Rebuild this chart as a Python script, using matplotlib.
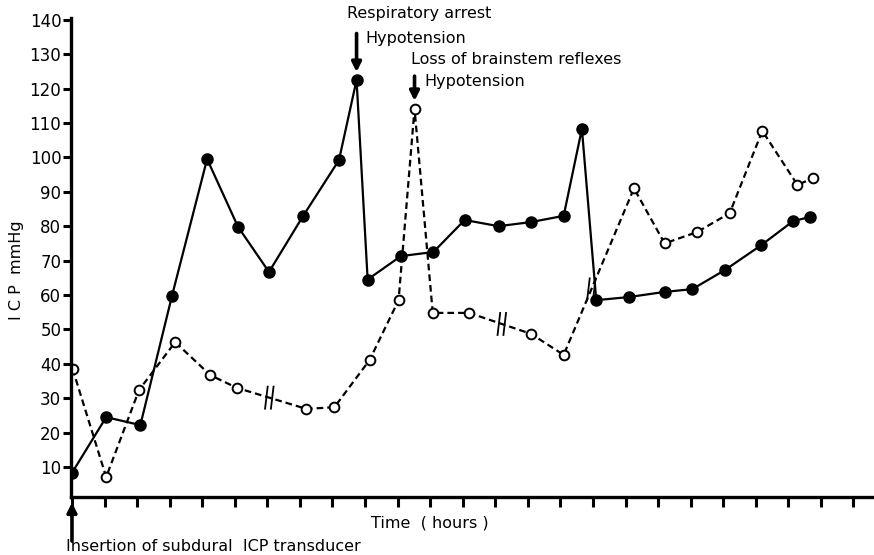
import numpy as np
import matplotlib
matplotlib.use('Agg')
from matplotlib import pyplot as plt

plt.rcParams['font.family'] = ['DejaVu Sans']

# solid line, filled circles (time in tick units)
t_filled = [0, 1.05, 2.1, 3.07, 4.15, 5.1, 6.05, 7.1, 8.2, 8.74, 9.08, 10.1, 11.1,
            12.06, 13.1, 14.1, 15.1, 15.66, 16.1, 17.1, 18.2, 19.05, 20.06, 21.17,
            22.15, 22.68]
icp_filled = [8.3, 24.5, 22.2, 59.7, 99.5, 79.8, 66.7, 83, 99.2, 122.5, 64.5, 71.3, 72.5,
              81.8, 80, 81.2, 83, 108.3, 58.5, 59.4, 60.9, 61.7, 67.3, 74.5, 81.5, 82.7]

# dashed line, open circles
t_open = [0.02, 1.05, 2.06, 3.17, 4.25, 5.07, 7.2, 8.06, 9.14, 10.03, 10.52, 11.08,
          12.2, 14.1, 15.1, 17.26, 18.2, 19.2, 20.2, 21.2, 22.28, 22.77]
icp_open = [38.5, 7.1, 32.4, 46.3, 36.7, 33, 26.9, 27.4, 41.1, 58.5, 114.1, 54.8,
            54.8, 48.7, 42.6, 91, 75, 78.3, 83.8, 107.7, 92, 94]

# break marks on the dashed trace
t_breaks = [6.06, 13.2, 15.95]

y_ticks = [10, 20, 30, 40, 50, 60, 70, 80, 90, 100, 110, 120, 130, 140]
x_ticks = np.arange(0, 25)

fig = plt.figure(figsize=(8.74, 5.55), dpi=100)
ax = fig.add_axes([71/874, 58/555, 802/874, 479/555])

ax.plot(t_open, icp_open, color='black', lw=1.6, ls=(0, (3.0, 1.8)),
        marker='o', ms=7, mfc='white', mec='black', mew=1.4, zorder=2)
ax.plot(t_filled, icp_filled, color='black', lw=1.6, ls='-',
        marker='o', ms=8, mfc='black', mec='black', zorder=3)

for tb in t_breaks:
    yb = np.interp(tb, t_open, icp_open)
    for dx in (-0.09, 0.09):
        ax.plot([tb + dx - 0.04, tb + dx + 0.04], [yb - 3.2, yb + 3.2],
                color='black', lw=1.3, zorder=4)

ax.set_xlim(-0.03, 24.6)
ax.set_ylim(1.3, 140.5)
ax.set_yticks(y_ticks)
ax.set_xticks(x_ticks)
ax.set_xticklabels([])
ax.spines['top'].set_visible(False)
ax.spines['right'].set_visible(False)
ax.spines['left'].set_linewidth(2.4)
ax.spines['bottom'].set_linewidth(2.4)
ax.tick_params(axis='y', direction='out', length=6, width=2.2, labelsize=12, pad=1)
ax.tick_params(axis='x', direction='out', length=7, width=2.2)

# annotations
arrow = dict(arrowstyle='-|>', lw=2.6, color='black', mutation_scale=14,
             shrinkA=0, shrinkB=0)
ax.annotate('', xy=(8.74, 124.8), xytext=(8.74, 136), arrowprops=arrow,
            annotation_clip=False)
ax.text(8.46, 141.8, 'Respiratory arrest', fontsize=11.5, va='center', ha='left',
        clip_on=False)
ax.text(9.0, 134.4, 'Hypotension', fontsize=11.5, va='center', ha='left', clip_on=False)

ax.annotate('', xy=(10.52, 116.4), xytext=(10.52, 123.6), arrowprops=arrow,
            annotation_clip=False)
ax.text(10.4, 128.4, 'Loss of brainstem reflexes', fontsize=11.5, va='center',
        ha='left', clip_on=False)
ax.text(10.82, 122.0, 'Hypotension', fontsize=11.5, va='center', ha='left',
        clip_on=False)

ax.annotate('', xy=(0, -0.3), xytext=(0, -11.5), arrowprops=arrow,
            annotation_clip=False)
ax.text(11.0, -6.3, 'Time  ( hours )', fontsize=11.5, va='center', ha='center',
        clip_on=False)
ax.text(-0.18, -13.0, 'Insertion of subdural  ICP transducer', fontsize=11.5,
        va='center', ha='left', clip_on=False)

fig.text(17/874, 1 - 270/555, 'I C P  mmHg', rotation=90, fontsize=11.5,
         va='center', ha='center')

fig.savefig('out.png', dpi=100)
